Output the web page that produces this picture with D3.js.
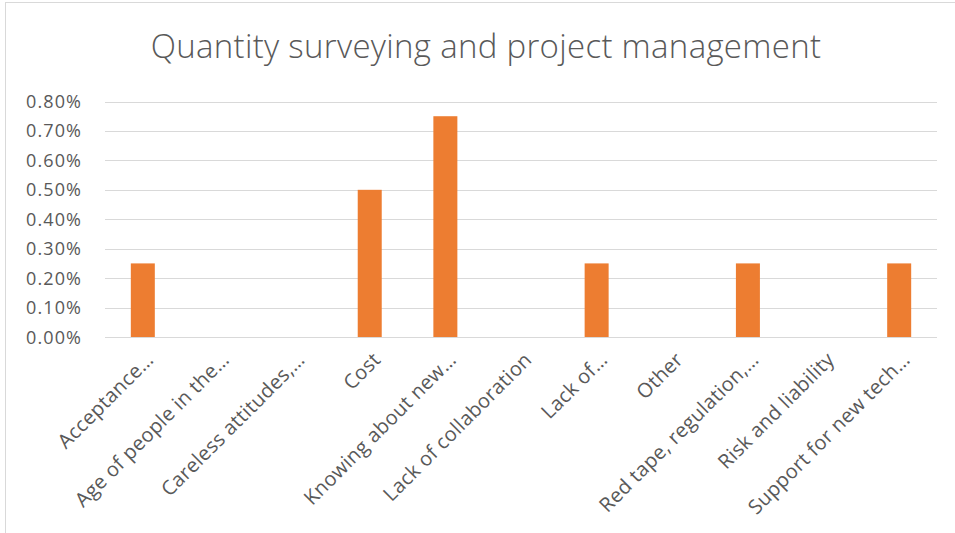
<html>
<head>
<script src="https://d3js.org/d3.v7.min.js"></script>
<style>
  body { margin: 0; background: #fff; }
  text { font-family: "Open Sans", sans-serif; fill: #595959; }
</style>
</head>
<body>
<svg width=955 height=533></svg>
<script>
const categories = ["Acceptance…", "Age of people in the…", "Careless attitudes,…", "Cost",
  "Knowing about new…", "Lack of collaboration", "Lack of…", "Other",
  "Red tape, regulation,…", "Risk and liability", "Support for new tech…"];
const values = [0.0025, 0, 0, 0.005, 0.0075, 0, 0.0025, 0, 0.0025, 0, 0.0025];
const yTicks = [0, 0.001, 0.002, 0.003, 0.004, 0.005, 0.006, 0.007, 0.008];

const svg = d3.select('svg');
const plotLeft = 105, plotRight = 937, plotTop = 101.5, plotBottom = 337;

// chart frame (cropped on right and bottom)
svg.append('rect')
  .attr('x', 5.5).attr('y', 2.5).attr('width', 1000).attr('height', 600)
  .style('fill', 'none').style('stroke', '#d9d9d9');

svg.append('text')
  .attr('x', 486).attr('y', 58)
  .style('text-anchor', 'middle')
  .style('font-size', '33px')
  .style('font-weight', 300)
  .style('letter-spacing', '0.3px')
  .text('Quantity surveying and project management');

let x = d3.scaleBand().domain(categories).range([plotLeft, plotRight]).paddingInner(0).paddingOuter(0);
let y = d3.scaleLinear().domain([0, 0.008]).range([plotBottom, plotTop]);

// gridlines
svg.append('g')
  .selectAll('line')
  .data(yTicks)
  .join('line')
  .attr('x1', plotLeft).attr('x2', plotRight)
  .attr('y1', d => Math.round(y(d)) + 0.5).attr('y2', d => Math.round(y(d)) + 0.5)
  .style('stroke', '#d9d9d9').style('stroke-width', 1);

// y labels
svg.append('g')
  .selectAll('text')
  .data(yTicks)
  .join('text')
  .attr('x', 82).attr('y', d => y(d) + 6.5)
  .style('text-anchor', 'end')
  .style('font-size', '18px')
  .style('letter-spacing', '1.1px')
  .text(d => d3.format('.2%')(d));

// bars
let barW = 24;
svg.append('g')
  .selectAll('rect')
  .data(values)
  .join('rect')
  .attr('x', (d, i) => x(categories[i]) + x.bandwidth() / 2 - barW / 2)
  .attr('y', d => y(d))
  .attr('width', barW)
  .attr('height', d => plotBottom - y(d))
  .style('fill', '#ed7d31');

// x labels, rotated
svg.append('g')
  .selectAll('text')
  .data(categories)
  .join('text')
  .attr('transform', d => `translate(${x(d) + x.bandwidth() / 2 + 12}, ${plotBottom + 24}) rotate(-45)`)
  .style('text-anchor', 'end')
  .style('font-size', '20px')
  .style('letter-spacing', '0.3px')
  .text(d => d);
</script>
</body>
</html>
